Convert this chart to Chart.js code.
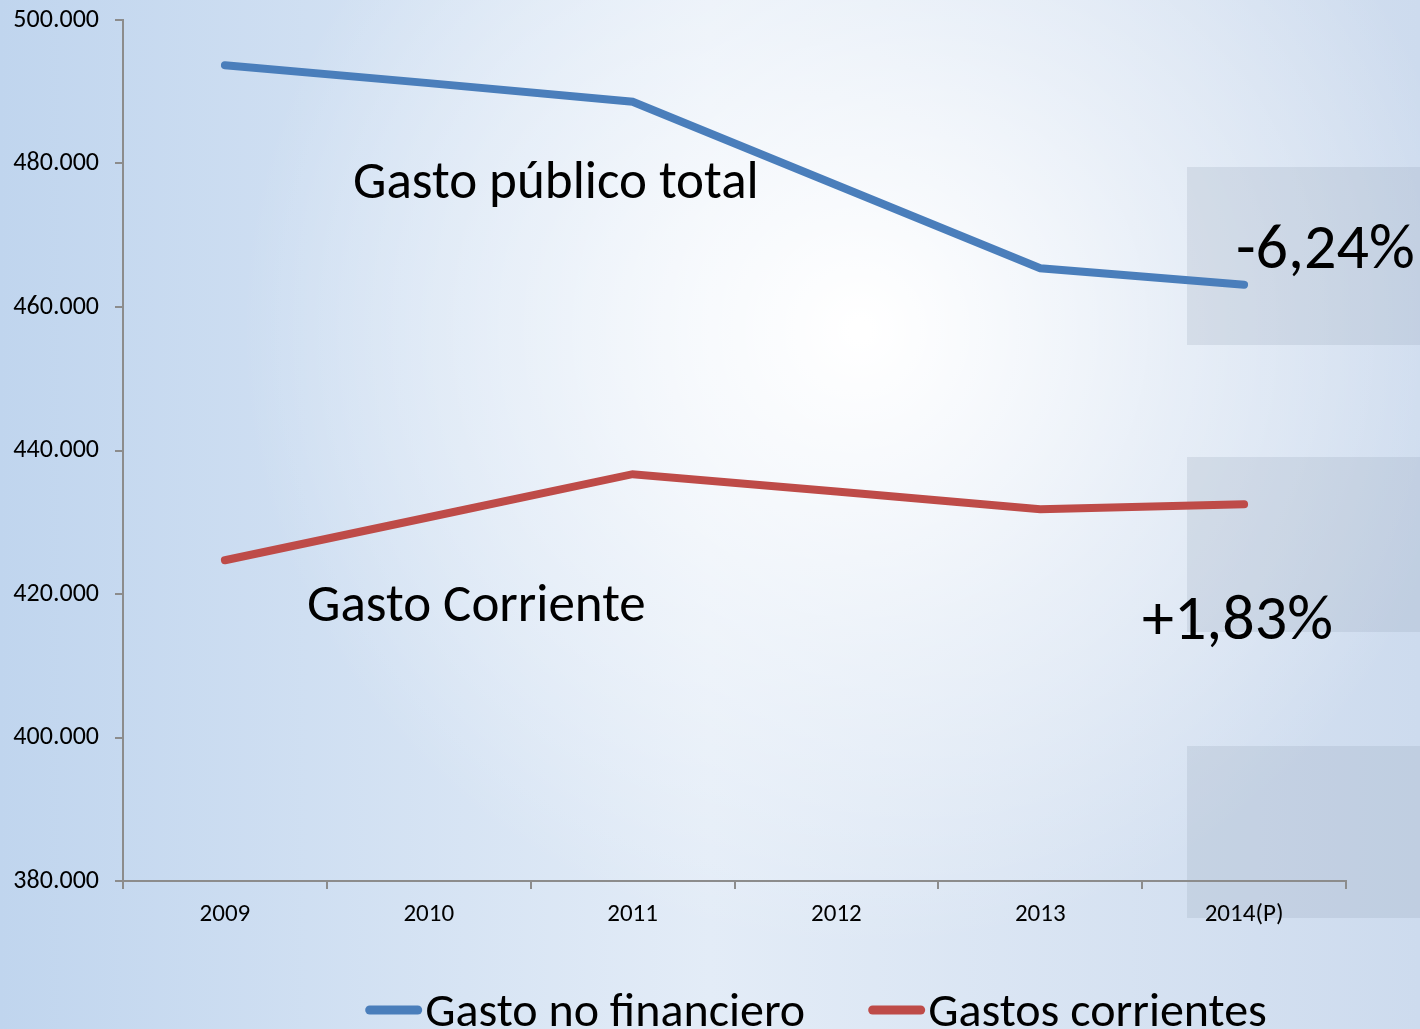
<!DOCTYPE html>
<html>
<head>
<meta charset="utf-8">
<script src="https://cdn.jsdelivr.net/npm/chart.js@4"></script>
<style>
  html, body { margin: 0; padding: 0; overflow: hidden; }
  #wrap { width: 1420px; height: 1029px; position: relative; }
</style>
</head>
<body>
<div id="wrap"><canvas id="chart" width="1420" height="1029"></canvas></div>
<script>
// 데이터
const years = ['2009', '2010', '2011', '2012', '2013', '2014(P)'];
const gastoNoFinanciero = [493700, 491200, 488600, 477000, 465400, 463100];
const gastosCorrientes = [424700, 430700, 436700, 434300, 431800, 432500];
const yTicks = [380000, 400000, 420000, 440000, 460000, 480000, 500000];

const FONT = 'Carlito, Lato, "Open Sans", sans-serif';
const axisColor = '#8c8c8c';

// 배경: 파란 그라데이션 + 회색 박스, 주석 텍스트, 범례
const slidePlugin = {
    id: 'slideBackground',
    beforeDraw(chart) {
        const { ctx, width, height } = chart;
        ctx.save();
        const lin = ctx.createLinearGradient(0, 0, width, 0);
        lin.addColorStop(0, '#c0d5ee');
        lin.addColorStop(0.5, '#e3ecf7');
        lin.addColorStop(1, '#cddbee');
        ctx.fillStyle = lin;
        ctx.fillRect(0, 0, width, height);
        const rad = ctx.createRadialGradient(860, 330, 10, 860, 330, 620);
        rad.addColorStop(0, 'rgba(255,255,255,1)');
        rad.addColorStop(0.5, 'rgba(255,255,255,0.45)');
        rad.addColorStop(1, 'rgba(255,255,255,0)');
        ctx.fillStyle = rad;
        ctx.fillRect(0, 0, width, height);
        // 오른쪽 반투명 박스
        ctx.fillStyle = 'rgba(140,155,175,0.2)';
        [[167, 345], [457, 632], [746, 918]].forEach(([t, b]) => {
            ctx.fillRect(1187, t, width - 1187, b - t);
        });
        ctx.restore();
    },
    afterDraw(chart) {
        const { ctx } = chart;
        ctx.save();
        ctx.fillStyle = '#000';
        ctx.textBaseline = 'alphabetic';
        ctx.font = '53px ' + FONT;
        ctx.fillText('Gasto público total', 353, 198);
        ctx.fillText('Gasto Corriente', 307, 621);
        ctx.font = '64px ' + FONT;
        ctx.fillText('-6,24%', 1236, 268);
        ctx.fillText('+1,83%', 1142, 639);

        // 범례 (선 + 텍스트, 가운데 정렬)
        ctx.font = '48px ' + FONT;
        const lineLen = 57, gap = 3, itemGap = 63;
        const items = chart.data.datasets.map(ds => ({
            text: ds.label, color: ds.borderColor, w: ctx.measureText(ds.label).width
        }));
        const total = items.reduce((s, it) => s + lineLen + gap + it.w, 0) + itemGap * (items.length - 1);
        let x = 816 - total / 2;
        const y = 1010;
        items.forEach(it => {
            ctx.strokeStyle = it.color;
            ctx.lineWidth = 9;
            ctx.lineCap = 'round';
            ctx.beginPath();
            ctx.moveTo(x + 4.5, y);
            ctx.lineTo(x + lineLen - 4.5, y);
            ctx.stroke();
            ctx.fillStyle = '#000';
            ctx.fillText(it.text, x + lineLen + gap, 1026);
            x += lineLen + gap + it.w + itemGap;
        });
        ctx.restore();
    }
};

new Chart(document.getElementById('chart'), {
    type: 'line',
    data: {
        labels: years,
        datasets: [
            {
                label: 'Gasto no financiero',
                data: gastoNoFinanciero,
                borderColor: '#4a7ebb',
                backgroundColor: '#4a7ebb',
                borderWidth: 8,
                borderCapStyle: 'round',
                pointRadius: 0,
                tension: 0
            },
            {
                label: 'Gastos corrientes',
                data: gastosCorrientes,
                borderColor: '#be4b48',
                backgroundColor: '#be4b48',
                borderWidth: 8,
                borderCapStyle: 'round',
                pointRadius: 0,
                tension: 0
            }
        ]
    },
    options: {
        responsive: false,
        animation: false,
        layout: { padding: { top: 20, right: 74, left: 0, bottom: 0 } },
        plugins: {
            tooltip: { enabled: false },
            legend: { display: false }
        },
        scales: {
            x: {
                offset: true,
                grid: { drawOnChartArea: false, drawTicks: true, tickLength: 8, color: axisColor, lineWidth: 2, offset: true },
                border: { color: axisColor, width: 2 },
                ticks: { color: '#000', font: { family: FONT, size: 25 }, padding: 11, maxRotation: 0 },
                afterFit(scale) { scale.height = 148; }
            },
            y: {
                min: 380000,
                max: 500000,
                afterBuildTicks(scale) { scale.ticks = yTicks.map(v => ({ value: v })); },
                grid: { drawOnChartArea: false, drawTicks: true, tickLength: 8, color: axisColor, lineWidth: 2 },
                border: { color: axisColor, width: 2 },
                ticks: {
                    color: '#000',
                    font: { family: FONT, size: 26 },
                    padding: 16,
                    callback: v => v.toLocaleString('de-DE')
                },
                afterFit(scale) {
                    scale.width = 123;
                    scale.paddingTop = 0;
                    scale.paddingBottom = 0;
                }
            }
        }
    },
    plugins: [slidePlugin]
});
</script>
</body>
</html>
